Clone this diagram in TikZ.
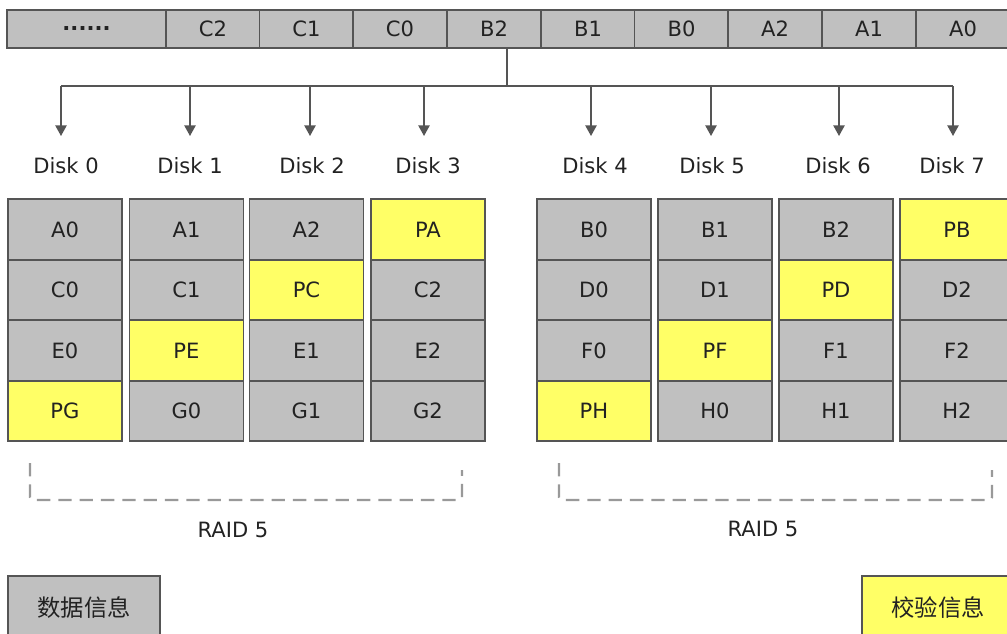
\documentclass[tikz,border=0pt]{standalone}
\usepackage{fontspec}
\setmainfont{DejaVu Sans}
\newfontfamily\cjk{Noto Sans CJK SC}
\usetikzlibrary{arrows.meta}
\definecolor{cellgray}{HTML}{C0C0C0}
\definecolor{edgegray}{HTML}{555555}
\definecolor{paritycol}{HTML}{FFFF66}
\definecolor{dashgray}{HTML}{999999}
\definecolor{txtcol}{HTML}{222222}
\begin{document}
\begin{tikzpicture}[x=0.75pt,y=-0.75pt,
  every node/.style={text=txtcol,font=\fontsize{15.8}{19}\selectfont},
  cell/.style={draw=edgegray,line width=1.2pt,fill=cellgray,inner sep=0pt,
               minimum width=85.5pt,minimum height=45.4pt},
  pcell/.style={cell,fill=paritycol},
  tcell/.style={draw=edgegray,line width=1.3pt,fill=cellgray,inner sep=0pt,
               minimum width=70.5pt,minimum height=28.5pt},
  disklabel/.style={inner sep=1pt},
  wire/.style={draw=edgegray,line width=1.1pt},
  arr/.style={wire,-{Triangle[width=8.5pt,length=8pt]}},
  bracket/.style={draw=dashgray,line width=1.7pt,dash pattern=on 10pt off 6pt,rounded corners=2pt},
  legend/.style={draw=edgegray,line width=1.2pt,inner sep=0pt,minimum width=114pt,minimum height=48pt,
                 font=\cjk\fontsize{17.5}{20}\selectfont}
]
\useasboundingbox (0,0) rectangle (1007,633);
\clip (0,0) rectangle (1007,633);

% top stream
\node[tcell,minimum width=119.25pt] (t0) at (86.5,29) {\textbf{......}};
\node[tcell] (t1) at (213,29) {C2};
\node[tcell] (t2) at (306.5,29) {C1};
\node[tcell] (t3) at (400,29) {C0};
\node[tcell] (t4) at (494,29) {B2};
\node[tcell] (t5) at (588,29) {B1};
\node[tcell] (t6) at (681.5,29) {B0};
\node[tcell] (t7) at (775,29) {A2};
\node[tcell] (t8) at (869,29) {A1};
\node[tcell] (t9) at (963,29) {A0};

% distribution
\coordinate (j) at (507,86);
\coordinate (hl) at (61,86);
\coordinate (hr) at (953,86);
\draw[wire] (t4.south -| j) -- (j);
\draw[wire] (hl) -- (hr);

\node[disklabel] (d0) at (66,166) {Disk 0};
\node[disklabel] (d1) at (190,166) {Disk 1};
\node[disklabel] (d2) at (312,166) {Disk 2};
\node[disklabel] (d3) at (428,166) {Disk 3};
\node[disklabel] (d4) at (595,166) {Disk 4};
\node[disklabel] (d5) at (712,166) {Disk 5};
\node[disklabel] (d6) at (838,166) {Disk 6};
\node[disklabel] (d7) at (952,166) {Disk 7};

\foreach \x/\n in {61/0,190/1,310/2,424/3,591/4,711/5,839/6,953/7}{
  \coordinate (a\n) at (\x,136);
  \draw[arr] (a\n |- hl) -- (a\n);
}

% left RAID 5 group
\node[cell]  (c00) at (65,229.5) {A0};
\node[cell]  (c01) at (65,290) {C0};
\node[cell]  (c02) at (65,350.5) {E0};
\node[pcell] (c03) at (65,411) {PG};
\node[cell]  (c10) at (186.5,229.5) {A1};
\node[cell]  (c11) at (186.5,290) {C1};
\node[pcell] (c12) at (186.5,350.5) {PE};
\node[cell]  (c13) at (186.5,411) {G0};
\node[cell]  (c20) at (306.5,229.5) {A2};
\node[pcell] (c21) at (306.5,290) {PC};
\node[cell]  (c22) at (306.5,350.5) {E1};
\node[cell]  (c23) at (306.5,411) {G1};
\node[pcell] (c30) at (428,229.5) {PA};
\node[cell]  (c31) at (428,290) {C2};
\node[cell]  (c32) at (428,350.5) {E2};
\node[cell]  (c33) at (428,411) {G2};

% right RAID 5 group
\node[cell]  (c40) at (594,229.5) {B0};
\node[cell]  (c41) at (594,290) {D0};
\node[cell]  (c42) at (594,350.5) {F0};
\node[pcell] (c43) at (594,411) {PH};
\node[cell]  (c50) at (715,229.5) {B1};
\node[cell]  (c51) at (715,290) {D1};
\node[pcell] (c52) at (715,350.5) {PF};
\node[cell]  (c53) at (715,411) {H0};
\node[cell]  (c60) at (836,229.5) {B2};
\node[pcell] (c61) at (836,290) {PD};
\node[cell]  (c62) at (836,350.5) {F1};
\node[cell]  (c63) at (836,411) {H1};
\node[pcell] (c70) at (957,229.5) {PB};
\node[cell]  (c71) at (957,290) {D2};
\node[cell]  (c72) at (957,350.5) {F2};
\node[cell]  (c73) at (957,411) {H2};

% brackets
\coordinate (bl1) at (30,463);
\coordinate (bl2) at (462,470);
\coordinate (br1) at (559,463);
\coordinate (br2) at (992,470);
\draw[bracket] (bl1) -- (30,500) -- (462,500) -- (bl2);
\draw[bracket] (br1) -- (559,500) -- (992,500) -- (br2);
\node (r1) at (233,530) {RAID 5};
\node (r2) at (763,529) {RAID 5};

% legend
\node[legend,fill=cellgray] (lg1) at (84,608) {数据信息};
\node[legend,fill=paritycol] (lg2) at (938,608) {校验信息};
\end{tikzpicture}
\end{document}
